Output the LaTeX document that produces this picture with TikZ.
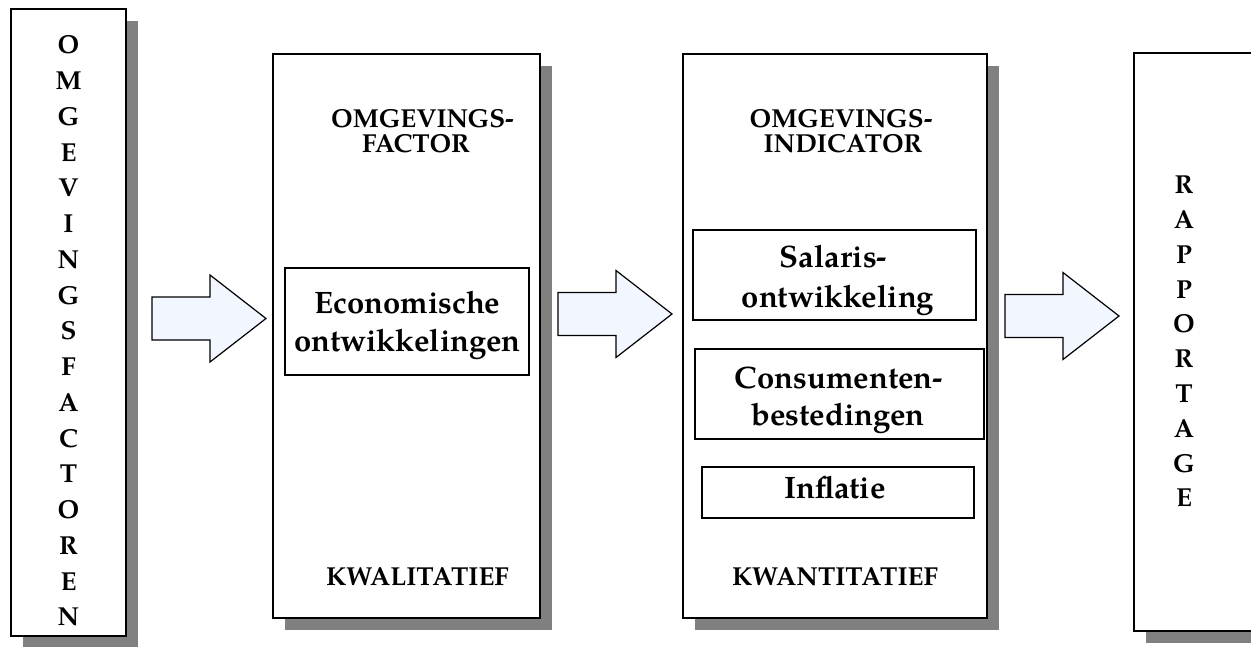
\documentclass[tikz,border=0pt]{standalone}
\usepackage{fontspec}
\setmainfont{TeX Gyre Pagella}
\usetikzlibrary{shadows}
\definecolor{shadowgray}{RGB}{128,128,128}
\definecolor{arrowfill}{RGB}{242,246,255}
\tikzset{
  frame/.style={draw=black, line width=1.6pt, fill=white, inner sep=0pt,
    drop shadow={shadow xshift=12pt, shadow yshift=-12pt, fill=shadowgray, opacity=1}},
  itembox/.style={draw=black, line width=1.3pt, fill=white, inner sep=0pt},
  head/.style={font=\bfseries\fontsize{26}{25}\selectfont, inner sep=0pt, anchor=base},
  itemtext/.style={font=\bfseries\fontsize{31}{38}\selectfont, inner sep=0pt, anchor=base},
  column/.style={font=\bfseries\fontsize{26}{35.75}\selectfont, align=center, inner sep=0pt},
  arrowbody/.style={draw=black, line width=1.2pt, fill=arrowfill, line join=miter},
  pics/blockarrow/.style={code={
    \draw[arrowbody] (0,-21.5) -- (58,-21.5) -- (58,-43.5) -- (114,0)
      -- (58,43.5) -- (58,21.5) -- (0,21.5) -- cycle;}}
}
\begin{document}
\begin{tikzpicture}[x=1pt,y=-1pt]
\useasboundingbox (0,0) rectangle (1251,646);

% main columns
\node[frame, minimum width=115pt, minimum height=627pt] (factoren) at (68.5,322.5) {};
\node[frame, minimum width=267pt, minimum height=564pt] (factor) at (406.5,336) {};
\node[frame, minimum width=304pt, minimum height=564pt] (indicator) at (835,336) {};
\node[frame, minimum width=131pt, minimum height=578pt] (rapportage) at (1199.5,342) {};

% vertical words
\node[column] (wfactoren) at (68.5,331) {O\\M\\G\\E\\V\\I\\N\\G\\S\\F\\A\\C\\T\\O\\R\\E\\N};
\node[column, font=\bfseries\fontsize{26}{34.8}\selectfont] (wrapportage) at (1184,341.5) {R\\A\\P\\P\\O\\R\\T\\A\\G\\E};

% headings
\node[head] (hfactor1) at (422.5,127) {OMGEVINGS-};
\node[head] (hfactor2) at (416,152) {FACTOR};
\node[head] (hindicator1) at (841,127) {OMGEVINGS-};
\node[head] (hindicator2) at (843,152) {INDICATOR};
\node[head] (kwal) at (417.5,585) {KWALITATIEF};
\node[head] (kwan) at (835,585) {KWANTITATIEF};

% inner boxes
\node[itembox, minimum width=244pt, minimum height=107pt] (eco) at (407,321.5) {};
\node[itemtext] (eco1) at (407.5,313) {Economische};
\node[itemtext] (eco2) at (407.5,351) {ontwikkelingen};
\node[itembox, minimum width=283pt, minimum height=90pt] (sal) at (834.5,275) {};
\node[itemtext] (sal1) at (833.5,267) {Salaris-};
\node[itemtext] (sal2) at (838,307) {ontwikkeling};
\node[itembox, minimum width=289pt, minimum height=90pt] (con) at (839.5,394) {};
\node[itemtext] (con1) at (839,388) {Consumenten-};
\node[itemtext] (con2) at (838,425) {bestedingen};
\node[itembox, minimum width=272pt, minimum height=51pt] (inf) at (838,492.5) {};
\node[itemtext] (inf1) at (835,498) {Inflatie};

% block arrows between the columns
\pic at (152,318.5) {blockarrow};
\pic at (558,314) {blockarrow};
\pic at (1005,316) {blockarrow};
\end{tikzpicture}
\end{document}
